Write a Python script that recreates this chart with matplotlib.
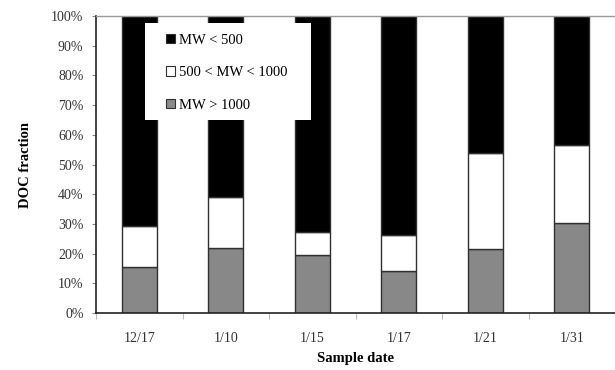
import matplotlib
matplotlib.use("Agg")
import matplotlib.pyplot as plt
from matplotlib.patches import Patch, Rectangle
from matplotlib.ticker import FixedLocator, PercentFormatter
import numpy as np

plt.rcParams['font.family'] = ['Liberation Serif', 'DejaVu Serif']

dates = ["12/17", "1/10", "1/15", "1/17", "1/21", "1/31"]
mw_gt_1000 = [15.5, 21.8, 19.4, 14.0, 21.6, 30.2]
mw_500_1000 = [13.9, 17.2, 7.9, 12.3, 32.4, 26.5]
mw_lt_500 = [70.6, 61.0, 72.7, 73.7, 46.0, 43.3]

fig = plt.figure(figsize=(6.15, 3.70), dpi=100)
ax = fig.add_axes([96/615, 1-313/370, 1-96/615, (313-16)/370])

x = np.arange(len(dates))
w = 0.41
ec = '#303030'
lw = 1.0
ax.bar(x, mw_gt_1000, w, color='#888888', edgecolor=ec, linewidth=lw)
ax.bar(x, mw_500_1000, w, bottom=mw_gt_1000, color='white', edgecolor=ec, linewidth=lw)
bot3 = np.array(mw_gt_1000) + np.array(mw_500_1000)
ax.bar(x, mw_lt_500, w, bottom=bot3, color='black', edgecolor=ec, linewidth=lw)

ax.set_ylim(0, 100)
ax.set_xlim(-0.5, -0.5 + 519/87)
ax.yaxis.set_major_locator(FixedLocator(np.arange(0, 101, 10)))
ax.yaxis.set_major_formatter(PercentFormatter(decimals=0))
ax.set_xticks(x)
ax.set_xticklabels(dates)
ax.set_xticks(np.arange(-0.5, 6, 1), minor=True)
ax.tick_params(axis='x', which='major', length=0, pad=14, labelsize=10, labelcolor='#333333')
ax.tick_params(axis='x', which='minor', length=4, color='#bbbbbb', width=0.8)
ax.tick_params(axis='y', length=3, color='#888888', width=0.8, labelsize=10, labelcolor='#333333', pad=6)

for s in ['left', 'bottom']:
    ax.spines[s].set_color('#222222')
    ax.spines[s].set_linewidth(1.2)
ax.spines['top'].set_color('#999999')
ax.spines['top'].set_linewidth(1.0)
ax.spines['right'].set_visible(False)

ax.set_ylabel('DOC fraction', fontsize=10.5, fontweight='bold', labelpad=14)
ax.set_xlabel('Sample date', fontsize=10.5, fontweight='bold', labelpad=5)

# white legend box
ax.add_patch(Rectangle((0.094, 0.65), 0.32, 0.326, transform=ax.transAxes,
                       facecolor='white', edgecolor='none', zorder=5))

handles = [
    Patch(facecolor='black', edgecolor=ec, linewidth=0.8, label='MW < 500'),
    Patch(facecolor='white', edgecolor=ec, linewidth=0.8, label='500 < MW < 1000'),
    Patch(facecolor='#888888', edgecolor=ec, linewidth=0.8, label='MW > 1000'),
]
leg = ax.legend(handles=handles, loc='upper left', bbox_to_anchor=(0.135, 0.94),
                frameon=False, fontsize=10.5, labelspacing=1.33,
                handlelength=0.6, handleheight=0.6, handletextpad=0.3,
                borderpad=0, borderaxespad=0)
leg.set_zorder(6)

fig.savefig('out.png', dpi=100)
